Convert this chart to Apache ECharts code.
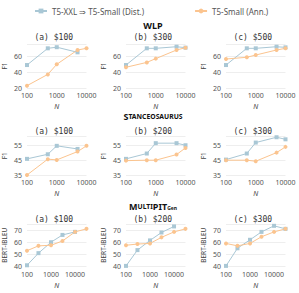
<!DOCTYPE html>
<html><head><meta charset="utf-8">
<script src="https://cdn.jsdelivr.net/npm/echarts@6/dist/echarts.min.js"></script>
<style>html,body{margin:0;padding:0;background:#fff}#c{width:299px;height:293px}</style>
</head><body><div id="c"></div>
<script>
// ---- data ----
var N_SMALL = [100, 500, 1000, 5000, 10000];
var N_MPIT = [100, 300, 1000, 3000, 10000, 30000];
var budgetsWLP = ['(a) $100', '(b) $300', '(c) $500'];
var budgetsStance = ['(a) $100', '(b) $200', '(c) $300'];
var budgetsMPIT = ['(a) $100', '(b) $200', '(c) $300'];

var wlpDistA = [48.7, 69.6, 71.0, 64.6];
var wlpAnnA  = [22.9, 37.0, 49.6, 67.5, 69.6];
var wlpDistB = [48.7, 69.6, 69.6, 71.6, 70.4];
var wlpAnnB  = [45.9, 52.0, 56.7, 67.5, 70.4];
var wlpDistC = [48.7, 69.6, 69.6, 71.6, 70.8];
var wlpAnnC  = [56.2, 58.4, 61.2, 67.5, 69.6];

var stDistA = [45.9, 49.0, 54.7, 52.6];
var stAnnA  = [35.0, 45.7, 45.2, 50.8, 54.7];
var stDistB = [45.9, 49.5, 56.5, 56.5, 55.1];
var stAnnB  = [44.7, 45.0, 45.0, 48.8, 53.3];
var stDistC = [45.4, 49.5, 56.9, 60.5, 59.1];
var stAnnC  = [45.0, 45.0, 44.3, 50.1, 54.0];

var mpDistA = [41.0, 51.0, 60.0, 66.0, 68.5];
var mpAnnA  = [53.0, 57.0, 57.5, 61.0, 68.5, 71.0];
var mpDistB = [40.5, 53.5, 61.5, 68.0, 73.0];
var mpAnnB  = [57.5, 58.5, 59.0, 64.0, 68.5, 71.0];
var mpDistC = [40.5, 55.0, 62.0, 68.5, 73.5, 71.0];
var mpAnnC  = [59.0, 57.0, 59.0, 64.5, 68.5, 71.0];

var yTicksWLP = {min: 20, max: 75, interval: 20};
var yTicksStance = {min: 35, max: 61, interval: 10};
var yTicksMPIT = {min: 40, max: 75, interval: 10};

var DIST_NAME = 'T5-XXL \u21D2 T5-Small (Dist.)';
var ANN_NAME = 'T5-Small (Ann.)';
// ---- styles ----
var BLUE = '#a9c7d5', ORANGE = '#fbc48f';
var FONT = 'Noto Sans';
var colLeft = [27, 126, 226], colW = 59.5;
var rows = [
  {top: 44, h: 44, N: N_SMALL, xmax: 10000, y: yTicksWLP, yname: 'F1', subs: budgetsWLP,
   dist: [wlpDistA, wlpDistB, wlpDistC], ann: [wlpAnnA, wlpAnnB, wlpAnnC], subY: 37.5},
  {top: 136.5, h: 38.5, N: N_SMALL, xmax: 10000, y: yTicksStance, yname: 'F1', subs: budgetsStance,
   dist: [stDistA, stDistB, stDistC], ann: [stAnnA, stAnnB, stAnnC], subY: 131.5},
  {top: 224, h: 42.5, N: N_MPIT, xmax: 30000, y: yTicksMPIT, yname: 'BERT-iBLEU', subs: budgetsMPIT,
   dist: [mpDistA, mpDistB, mpDistC], ann: [mpAnnA, mpAnnB, mpAnnC], subY: 219}
];
function pairs(xs, ys){ var o=[]; for (var i=0;i<ys.length;i++) o.push([xs[i], ys[i]]); return o; }

var grid=[], xAxis=[], yAxis=[], series=[], graphic=[];
var k=0;
rows.forEach(function(r, ri){
  for (var c=0;c<3;c++){
    grid.push({left: colLeft[c], top: r.top, width: colW, height: r.h, containLabel: false, outerBoundsMode: 'none'});
    xAxis.push({type: 'log', logBase: 10, gridIndex: k, min: 100, max: r.xmax,
      name: 'N', nameLocation: 'middle', nameGap: 15,
      nameTextStyle: {fontSize: 7, fontStyle: 'italic', color: '#444', fontFamily: FONT},
      axisLine: {show: false}, axisTick: {show: false}, splitLine: {show: false},
      axisLabel: {fontSize: 7, color: '#555', fontFamily: FONT, margin: 4, showMaxLabel: r.xmax === 10000,
        formatter: function(v){ return String(Math.round(v)); }}
    });
    yAxis.push({type: 'value', gridIndex: k, min: r.y.min, max: r.y.max, interval: r.y.interval,
      name: r.yname, nameLocation: 'middle', nameGap: 19, nameRotate: 90,
      nameTextStyle: {fontSize: 6.5, color: '#444', fontFamily: FONT},
      axisLine: {show: false}, axisTick: {show: false},
      splitLine: {show: true, lineStyle: {color: '#eeeeee', width: 1}},
      axisLabel: {fontSize: 7, color: '#555', fontFamily: FONT, margin: 5, showMaxLabel: false}
    });
    series.push({type: 'line', name: DIST_NAME, xAxisIndex: k, yAxisIndex: k,
      data: pairs(r.N, r.dist[c]), symbol: 'rect', symbolSize: 4, color: BLUE,
      lineStyle: {width: 1, color: BLUE}, itemStyle: {color: BLUE}, animation: false});
    series.push({type: 'line', name: ANN_NAME, xAxisIndex: k, yAxisIndex: k,
      data: pairs(r.N, r.ann[c]), symbol: 'circle', symbolSize: 4, color: ORANGE,
      lineStyle: {width: 1, color: ORANGE}, itemStyle: {color: ORANGE}, animation: false});
    graphic.push({type: 'text', x: colLeft[c] + colW/2 - 3, y: r.subY,
      style: {text: r.subs[c], fontSize: 8, fontFamily: 'DejaVu Sans Mono', fill: '#333',
        align: 'center', verticalAlign: 'middle'}});
    k++;
  }
});
var rowTitles = [
  {y: 25, text: '{b|WLP}'},
  {y: 116.5, text: '{b|S}{s|TANCEOSAURUS}'},
  {y: 206, text: '{b|M}{s|ULTI}{b|PIT}{sub|Gen}'}
];
rowTitles.forEach(function(t){
  graphic.push({type: 'text', x: 153, y: t.y,
    style: {text: t.text, align: 'center', verticalAlign: 'middle',
      rich: {
        b: {fontSize: 9, fontWeight: 'bold', fontFamily: FONT, fill: '#111', color: '#111'},
        s: {fontSize: 6.8, fontWeight: 'bold', fontFamily: FONT, fill: '#111', color: '#111'},
        sub: {fontSize: 5, fontWeight: 'bold', fontFamily: FONT, fill: '#111', color: '#111', verticalAlign: 'bottom', padding: [4,0,0,0]}
      }}});
});

var chart = echarts.init(document.getElementById('c'), null, {renderer: 'svg'});
chart.setOption({
  animation: false,
  legend: {top: 2, left: 29, itemWidth: 12, itemHeight: 6, itemGap: 50,
    textStyle: {fontSize: 8, color: '#555', fontFamily: FONT},
    data: [DIST_NAME, ANN_NAME]},
  grid: grid, xAxis: xAxis, yAxis: yAxis, series: series, graphic: graphic
});
</script></body></html>
